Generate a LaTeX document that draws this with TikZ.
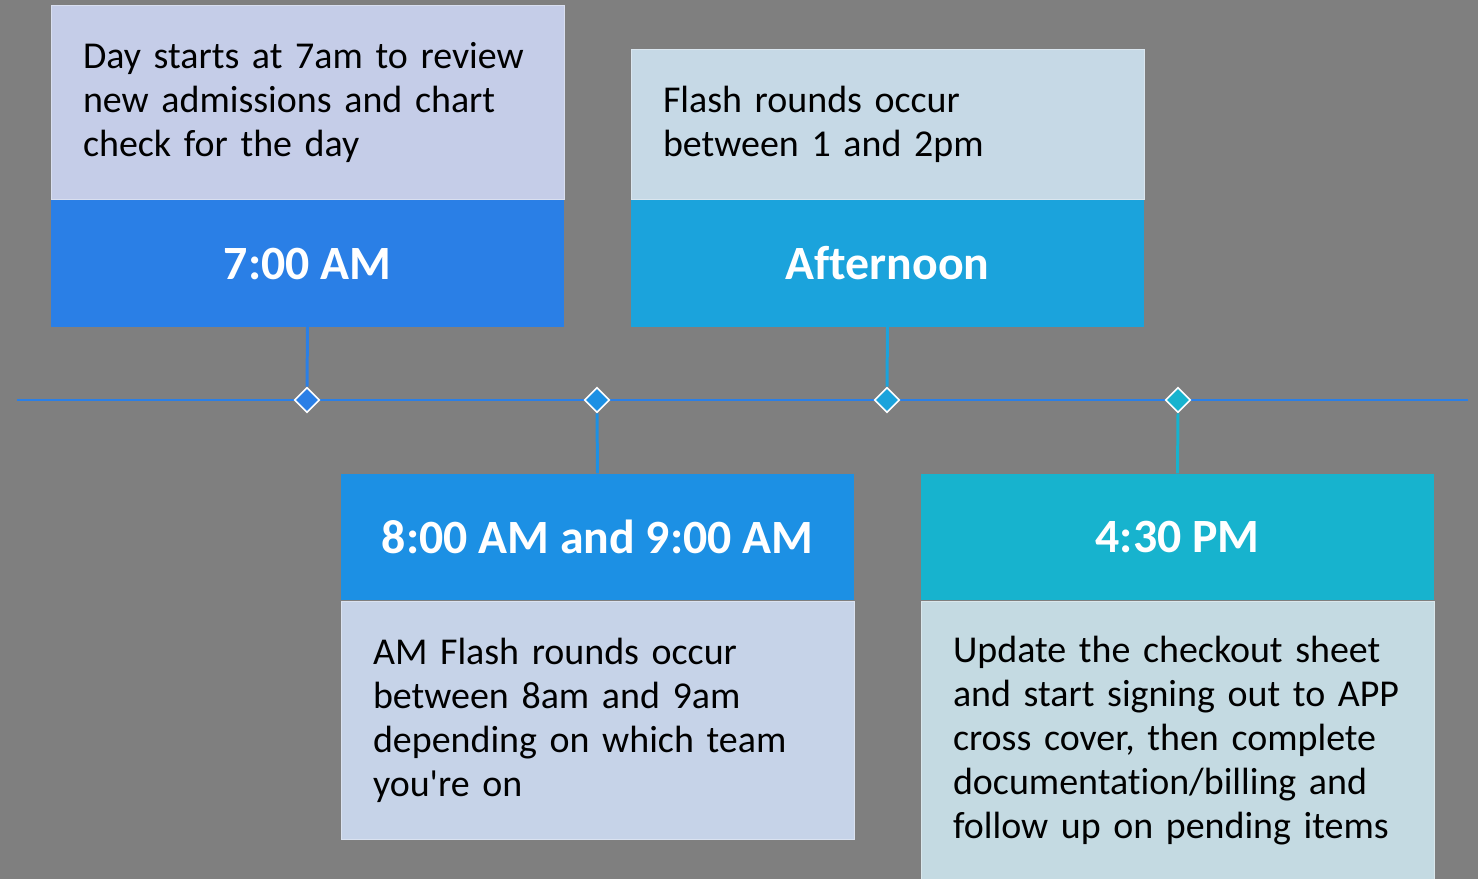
\documentclass[tikz,border=0pt]{standalone}
\usepackage{fontspec}
\setmainfont{Carlito}[Ligatures={NoCommon}]
\usetikzlibrary{shapes.geometric}

\definecolor{backgray}{HTML}{7F7F7F}
\definecolor{lineblue}{HTML}{2A7FE6}
\definecolor{headA}{HTML}{2A7FE6}
\definecolor{headB}{HTML}{1C90E4}
\definecolor{headC}{HTML}{1BA3DC}
\definecolor{headD}{HTML}{17B3CE}
\definecolor{noteA}{HTML}{C5CDE8}
\definecolor{noteB}{HTML}{C6D3E8}
\definecolor{noteC}{HTML}{C6D9E6}
\definecolor{noteD}{HTML}{C4DAE2}

\begin{document}
\begin{tikzpicture}[x=0.02cm, y=-0.02cm,
	head/.style={rectangle, inner sep=0pt, minimum width=10.26cm, minimum height=2.53cm,
		text=white, font=\fontsize{27.2}{32}\selectfont\bfseries},
	note/.style={rectangle, inner xsep=0.64cm, inner ysep=0pt, text width=8.98cm, align=left,
		minimum width=10.26cm, draw=white!35!#1, line width=0.5pt, fill=#1,
		font=\fontsize{21.6}{25}\selectfont},
	mark/.style={diamond, aspect=1, inner sep=0pt, minimum size=0.5cm, draw=white,
		line width=0.9pt, fill=#1},
	stem/.style={line width=1.7pt}]

	% background
	\fill[backgray] (0,0) rectangle (1478,879);
	\useasboundingbox (0,0) rectangle (1478,879);

	% time headers
	\node[head, fill=headA] (t1) at (307.5,263.5) {7:00 AM};
	\node[head, fill=headB] (t2) at (597.5,537) {8:00 AM and 9:00 AM};
	\node[head, fill=headC] (t3) at (887.5,263.5) {Afternoon};
	\node[head, fill=headD] (t4) at (1177.5,537) {4:30 PM};

	% descriptions
	\node[note=noteA, anchor=south, minimum height=3.88cm] (n1) at (t1.north)
		{Day starts at 7am to review\\new admissions and chart\\check for the day};
	\node[note=noteC, anchor=south, minimum height=3.0cm] (n3) at (t3.north)
		{Flash rounds occur\\between 1 and 2pm};
	\node[note=noteB, anchor=north, minimum height=4.76cm] (n2) at (t2.south)
		{AM Flash rounds occur\\between 8am and 9am\\depending on which team\\you\textquotesingle re on};
	\node[note=noteD, anchor=north, minimum height=5.58cm] (n4) at (t4.south)
		{Update the checkout sheet\\and start signing out to APP\\cross cover, then complete\\documentation/billing and\\follow up on pending items};

	% timeline
	\coordinate (left) at (17,400);
	\coordinate (right) at (1468,400);
	\draw[lineblue, line width=1.7pt] (left) -- (right);

	\node[mark=headA] (d1) at (307,400) {};
	\node[mark=headB] (d2) at (597,400) {};
	\node[mark=headC] (d3) at (887,400) {};
	\node[mark=headD] (d4) at (1178,400) {};

	\draw[stem, headA] (t1.south) -- (d1.north);
	\draw[stem, headB] (d2.south) -- (t2.north);
	\draw[stem, headC] (t3.south) -- (d3.north);
	\draw[stem, headD] (d4.south) -- (t4.north);
\end{tikzpicture}
\end{document}
